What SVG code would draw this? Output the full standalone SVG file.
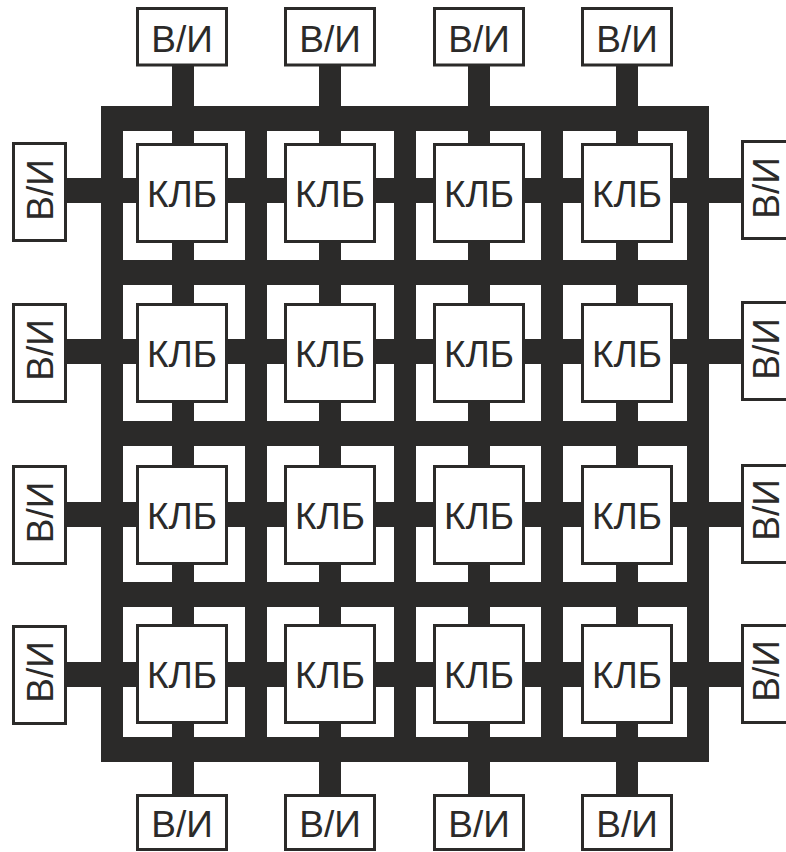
<svg xmlns="http://www.w3.org/2000/svg" width="786" height="852" viewBox="0 0 786 852">
<style>
.bar{fill:#2b2a29}
.box{fill:#fff;stroke:#2b2a29;stroke-width:3}
.t{font-family:"Liberation Sans",Arial,sans-serif;font-size:37px;fill:#2b2a29;text-anchor:middle}
</style>
<rect width="786" height="852" fill="#fff"/>
<g id="connectors">
<!-- buses -->
<rect class="bar" x="101" y="106" width="22" height="656"/>
<rect class="bar" x="245" y="106" width="22" height="656"/>
<rect class="bar" x="394" y="106" width="22" height="656"/>
<rect class="bar" x="541" y="106" width="22" height="656"/>
<rect class="bar" x="687" y="106" width="22" height="656"/>
<rect class="bar" x="101" y="106" width="608" height="25"/>
<rect class="bar" x="101" y="260" width="608" height="25"/>
<rect class="bar" x="101" y="421" width="608" height="25"/>
<rect class="bar" x="101" y="582" width="608" height="25"/>
<rect class="bar" x="101" y="737" width="608" height="25"/>
<!-- stubs -->
<rect class="bar" x="172" y="66" width="22" height="728"/>
<rect class="bar" x="319" y="66" width="22" height="728"/>
<rect class="bar" x="468" y="66" width="22" height="728"/>
<rect class="bar" x="616" y="66" width="22" height="728"/>
<rect class="bar" x="67" y="178" width="674" height="25"/>
<rect class="bar" x="67" y="339" width="674" height="25"/>
<rect class="bar" x="67" y="502" width="674" height="25"/>
<rect class="bar" x="67" y="662" width="674" height="25"/>
</g>
<g id="klb-1-1"><rect class="box" x="137.5" y="144.5" width="89" height="97"/><text class="t" x="182" y="206.5">КЛБ</text></g>
<g id="klb-1-2"><rect class="box" x="285.5" y="144.5" width="89" height="97"/><text class="t" x="330" y="206.5">КЛБ</text></g>
<g id="klb-1-3"><rect class="box" x="434.5" y="144.5" width="89" height="97"/><text class="t" x="479" y="206.5">КЛБ</text></g>
<g id="klb-1-4"><rect class="box" x="582.5" y="144.5" width="89" height="97"/><text class="t" x="627" y="206.5">КЛБ</text></g>
<g id="klb-2-1"><rect class="box" x="137.5" y="304.5" width="89" height="97"/><text class="t" x="182" y="366.5">КЛБ</text></g>
<g id="klb-2-2"><rect class="box" x="285.5" y="304.5" width="89" height="97"/><text class="t" x="330" y="366.5">КЛБ</text></g>
<g id="klb-2-3"><rect class="box" x="434.5" y="304.5" width="89" height="97"/><text class="t" x="479" y="366.5">КЛБ</text></g>
<g id="klb-2-4"><rect class="box" x="582.5" y="304.5" width="89" height="97"/><text class="t" x="627" y="366.5">КЛБ</text></g>
<g id="klb-3-1"><rect class="box" x="137.5" y="466.5" width="89" height="97"/><text class="t" x="182" y="528.5">КЛБ</text></g>
<g id="klb-3-2"><rect class="box" x="285.5" y="466.5" width="89" height="97"/><text class="t" x="330" y="528.5">КЛБ</text></g>
<g id="klb-3-3"><rect class="box" x="434.5" y="466.5" width="89" height="97"/><text class="t" x="479" y="528.5">КЛБ</text></g>
<g id="klb-3-4"><rect class="box" x="582.5" y="466.5" width="89" height="97"/><text class="t" x="627" y="528.5">КЛБ</text></g>
<g id="klb-4-1"><rect class="box" x="137.5" y="625.5" width="89" height="97"/><text class="t" x="182" y="687.5">КЛБ</text></g>
<g id="klb-4-2"><rect class="box" x="285.5" y="625.5" width="89" height="97"/><text class="t" x="330" y="687.5">КЛБ</text></g>
<g id="klb-4-3"><rect class="box" x="434.5" y="625.5" width="89" height="97"/><text class="t" x="479" y="687.5">КЛБ</text></g>
<g id="klb-4-4"><rect class="box" x="582.5" y="625.5" width="89" height="97"/><text class="t" x="627" y="687.5">КЛБ</text></g>
<!-- top I/O -->
<g id="io-top-1"><rect class="box" x="137.5" y="8.5" width="89" height="56.5"/><text class="t" x="182" y="52">В/И</text></g>
<g id="io-top-2"><rect class="box" x="285.5" y="8.5" width="89" height="56.5"/><text class="t" x="330" y="52">В/И</text></g>
<g id="io-top-3"><rect class="box" x="434.5" y="8.5" width="89" height="56.5"/><text class="t" x="479" y="52">В/И</text></g>
<g id="io-top-4"><rect class="box" x="582.5" y="8.5" width="89" height="56.5"/><text class="t" x="627" y="52">В/И</text></g>
<!-- bottom I/O -->
<g id="io-bottom-1"><rect class="box" x="137.5" y="795.5" width="89" height="54"/><text class="t" x="182" y="837">В/И</text></g>
<g id="io-bottom-2"><rect class="box" x="285.5" y="795.5" width="89" height="54"/><text class="t" x="330" y="837">В/И</text></g>
<g id="io-bottom-3"><rect class="box" x="434.5" y="795.5" width="89" height="54"/><text class="t" x="479" y="837">В/И</text></g>
<g id="io-bottom-4"><rect class="box" x="582.5" y="795.5" width="89" height="54"/><text class="t" x="627" y="837">В/И</text></g>
<!-- left I/O -->
<g id="io-left-1"><rect class="box" x="13.5" y="143.5" width="52" height="97"/><text class="t" transform="translate(52.5 190) rotate(-90)">В/И</text></g>
<g id="io-left-2"><rect class="box" x="13.5" y="304.5" width="52" height="97"/><text class="t" transform="translate(52.5 350) rotate(-90)">В/И</text></g>
<g id="io-left-3"><rect class="box" x="13.5" y="466.5" width="52" height="97"/><text class="t" transform="translate(52.5 512.5) rotate(-90)">В/И</text></g>
<g id="io-left-4"><rect class="box" x="13.5" y="626.5" width="52" height="97"/><text class="t" transform="translate(52.5 672) rotate(-90)">В/И</text></g>
<!-- right I/O (boxes run past the right edge, as in the reference) -->
<g id="io-right-1"><rect class="box" x="742.5" y="141.5" width="52" height="97"/><text class="t" transform="translate(779 188) rotate(-90)">В/И</text></g>
<g id="io-right-2"><rect class="box" x="742.5" y="302.5" width="52" height="97"/><text class="t" transform="translate(779 349) rotate(-90)">В/И</text></g>
<g id="io-right-3"><rect class="box" x="742.5" y="465.5" width="52" height="97"/><text class="t" transform="translate(779 510) rotate(-90)">В/И</text></g>
<g id="io-right-4"><rect class="box" x="742.5" y="625.5" width="52" height="97"/><text class="t" transform="translate(779 671) rotate(-90)">В/И</text></g>
</svg>
